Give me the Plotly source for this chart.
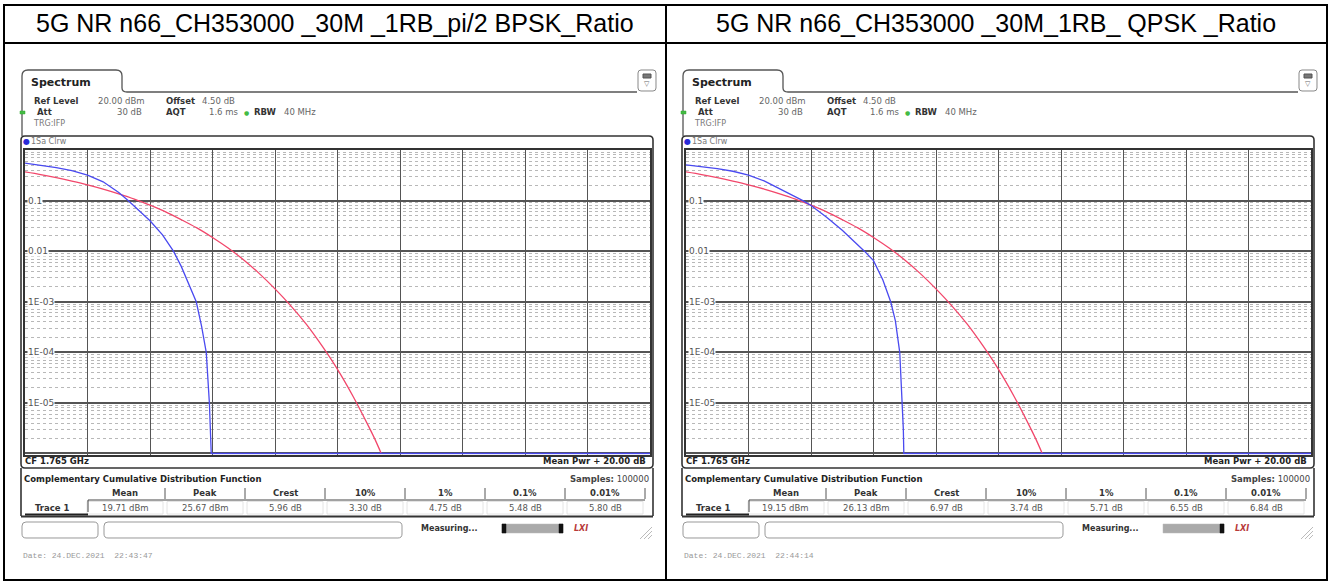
import math
import plotly.graph_objects as go

W, H = 1331, 584

# ---------------- data ----------------
panel_titles = [
    "5G NR n66_CH353000 _30M _1RB_pi/2 BPSK_Ratio",
    "5G NR n66_CH353000 _30M_1RB_ QPSK _Ratio",
]

# Gaussian (AWGN) reference curve, dB above mean power vs. probability
gauss_db = [0, 0.5, 1, 1.5, 2, 2.5, 3, 3.5, 4, 4.5, 5, 5.5, 6, 6.5, 7, 7.5,
            8, 8.5, 9, 9.5, 10, 10.5, 11, 11.2, 11.4]
gauss_ccdf = [0.368, 0.326, 0.284, 0.243, 0.205, 0.169, 0.136, 0.107, 0.081,
              0.060, 0.042, 0.0288, 0.0186, 0.0115, 0.0067, 0.0036, 0.0018,
              8.4e-4, 3.6e-4, 1.35e-4, 4.6e-5, 1.34e-5, 3.4e-6, 1.9e-6, 1.0e-6]

# Measured trace, pi/2 BPSK
bpsk_db = [0, 0.5, 1, 1.5, 2, 2.5, 3, 3.3, 3.6, 4, 4.4, 4.75, 5.0, 5.25,
           5.48, 5.65, 5.8, 5.9, 5.94, 5.96, 20]
bpsk_ccdf = [0.55, 0.505, 0.45, 0.39, 0.32, 0.235, 0.145, 0.10, 0.068, 0.040,
             0.021, 0.010, 0.005, 0.0022, 0.001, 3.3e-4, 1.0e-4, 1.0e-5,
             2.5e-6, 1.0e-6, 1.0e-6]

# Measured trace, QPSK
qpsk_db = [0, 0.5, 1, 1.5, 2, 2.5, 3, 3.5, 3.74, 4, 4.5, 5, 5.4, 5.71, 6,
           6.3, 6.55, 6.7, 6.84, 6.93, 6.955, 6.97, 20]
qpsk_ccdf = [0.51, 0.475, 0.43, 0.38, 0.32, 0.245, 0.172, 0.118, 0.10, 0.080,
             0.047, 0.026, 0.0155, 0.010, 0.0065, 0.0027, 0.001, 4.2e-4,
             1.0e-4, 1.0e-5, 3e-6, 1.0e-6, 1.0e-6]

y_tick_vals = [0.1, 0.01, 1e-3, 1e-4, 1e-5]
y_tick_text = ["0.1", "0.01", "1E-03", "1E-04", "1E-05"]

stat_cols = ["Mean", "Peak", "Crest", "10%", "1%", "0.1%", "0.01%"]
bpsk_stats = ["19.71 dBm", "25.67 dBm", "5.96 dB", "3.30 dB", "4.75 dB", "5.48 dB", "5.80 dB"]
qpsk_stats = ["19.15 dBm", "26.13 dBm", "6.97 dB", "3.74 dB", "5.71 dB", "6.55 dB", "6.84 dB"]
date_stamps = ["Date: 24.DEC.2021  22:43:47", "Date: 24.DEC.2021  22:44:14"]

# ---------------- helpers (pixel -> paper) ----------------
shapes, annotations = [], []
UI = "DejaVu Sans"


def fx(x):
    return x / W


def fy(y):
    return 1 - y / H


def line(x0, y0, x1, y1, color="#222", width=1.0):
    shapes.append(dict(type="line", xref="paper", yref="paper",
                       x0=fx(x0), y0=fy(y0), x1=fx(x1), y1=fy(y1),
                       line=dict(color=color, width=width), layer="above"))


def box(x0, y0, x1, y1, color="#222", width=1.0, fill=None):
    shapes.append(dict(type="rect", xref="paper", yref="paper",
                       x0=fx(x0), y0=fy(y0), x1=fx(x1), y1=fy(y1),
                       line=dict(color=color, width=width),
                       fillcolor=fill or "rgba(0,0,0,0)", layer="above"))


def p(x, y):
    return f"{fx(x):.5f},{fy(y):.5f}"


def rounded(x0, y0, x1, y1, r, color="#333", width=1.2):
    d = (f"M{p(x0 + r, y0)} L{p(x1 - r, y0)} Q{p(x1, y0)} {p(x1, y0 + r)} "
         f"L{p(x1, y1 - r)} Q{p(x1, y1)} {p(x1 - r, y1)} L{p(x0 + r, y1)} "
         f"Q{p(x0, y1)} {p(x0, y1 - r)} L{p(x0, y0 + r)} Q{p(x0, y0)} {p(x0 + r, y0)} Z")
    shapes.append(dict(type="path", xref="paper", yref="paper", path=d,
                       line=dict(color=color, width=width),
                       fillcolor="rgba(0,0,0,0)", layer="above"))


def text(x, y, s, size=9, color="#333", anchor="left", family=UI):
    annotations.append(dict(xref="paper", yref="paper", x=fx(x), y=fy(y), text=s,
                            showarrow=False, xanchor=anchor, yanchor="middle",
                            font=dict(family=family, size=size, color=color),
                            borderpad=0))


# ---------------- outer table ----------------
box(4, 5, 1327, 580, color="#000", width=2)
line(666, 5, 666, 580, color="#000", width=2)
line(4, 43, 1327, 43, color="#000", width=2)

GRID_L, GRID_R, GRID_T, GRID_B = 25, 650, 150, 454.5
OFFSET = 661

fig = go.Figure()


def panel(k, title, meas_db, meas_ccdf, stats, stamp):
    ox = k * OFFSET
    xa = "x" if k == 0 else "x2"
    ya = "y" if k == 0 else "y2"

    # title cell
    text(335 + ox, 23, title, size=25, color="#000", anchor="center",
         family="Liberation Sans")

    # Spectrum tab and header line
    d = (f"M{p(22 + ox, 136)} L{p(22 + ox, 76)} Q{p(22 + ox, 70)} {p(28 + ox, 70)} "
         f"L{p(116 + ox, 70)} Q{p(122 + ox, 70)} {p(122 + ox, 76)} L{p(122 + ox, 88)} "
         f"Q{p(122 + ox, 92)} {p(127 + ox, 92)} L{p(637 + ox, 92)}")
    shapes.append(dict(type="path", xref="paper", yref="paper", path=d,
                       line=dict(color="#555", width=1.3), layer="above"))
    text(30 + ox, 82, "<b>Spectrum</b>", size=11, color="#222")
    rounded(638 + ox, 70, 656 + ox, 91, 3, color="#888", width=1)
    box(643 + ox, 74, 651 + ox, 78, color="#555", width=1, fill="#777")
    text(647 + ox, 84, "▽", size=7, color="#666", anchor="center")

    # setting readouts
    text(33 + ox, 101, "<b>Ref Level</b>", size=8.5, color="#333")
    text(146 + ox, 101, "20.00 dBm", size=8.5, color="#666", anchor="right")
    text(165 + ox, 101, "<b>Offset</b>", size=8.5, color="#333")
    text(201 + ox, 101, "4.50 dB", size=8.5, color="#666")
    box(20 + ox, 111, 25 + ox, 114, color="#3a3", width=0.5, fill="#4b4")
    text(36 + ox, 112, "<b>Att</b>", size=8.5, color="#333")
    text(143 + ox, 112, "30 dB", size=8.5, color="#666", anchor="right")
    text(165 + ox, 112, "<b>AQT</b>", size=8.5, color="#333")
    text(208 + ox, 112, "1.6 ms", size=8.5, color="#666")
    text(246 + ox, 112, "●", size=6, color="#4b4", anchor="center")
    text(253 + ox, 112, "<b>RBW</b>", size=8.5, color="#333")
    text(283 + ox, 112, "40 MHz", size=8.5, color="#666")
    text(32 + ox, 124, "TRG:IFP", size=8, color="#777")

    # diagram frame
    rounded(21 + ox, 136, 653 + ox, 468, 4, color="#333", width=1.6)
    text(26 + ox, 142, "●", size=8, color="#2a2ad8", anchor="center")
    text(30 + ox, 142, "1Sa Clrw", size=8, color="#777")
    text(24 + ox, 461, "<b>CF 1.765 GHz</b>", size=8.5, color="#222")
    text(647 + ox, 461, "<b>Mean Pwr + 20.00 dB</b>", size=8.5, color="#222",
         anchor="right")

    # y labels drawn inside the grid, tied to the log axis
    for v, s in zip(y_tick_vals, y_tick_text):
        annotations.append(dict(xref=xa, yref=ya, x=0, y=math.log10(v), text=s,
                                showarrow=False, xanchor="left", yanchor="middle",
                                xshift=2, font=dict(family=UI, size=9, color="#555"),
                                bgcolor="white", borderpad=0))

    # result table
    line(21 + ox, 468, 21 + ox, 516, color="#333", width=1.6)
    line(653 + ox, 468, 653 + ox, 516, color="#333", width=1.6)
    line(21 + ox, 516.5, 653 + ox, 516.5, color="#333", width=2)
    text(23 + ox, 479, "<b>Complementary Cumulative Distribution Function</b>",
         size=8.5, color="#222")
    text(650 + ox, 479, "<b>Samples:</b> 100000", size=8.5, color="#444",
         anchor="right")
    col_w = 80
    col0 = 85
    for i, (c, v) in enumerate(zip(stat_cols, stats)):
        cx = col0 + col_w * i + col_w / 2 + ox
        text(cx, 493, f"<b>{c}</b>", size=8.5, color="#333", anchor="center")
        sep = col0 + col_w * (i + 1) + ox
        line(sep, 488, sep, 499, color="#555", width=1)
        box(col0 + col_w * i + 2 + ox, 501.5, col0 + col_w * (i + 1) - 2 + ox, 514,
            color="#ddd", width=0.8)
        text(cx, 508, v, size=8.5, color="#555", anchor="center")
    line(88 + ox, 500, 645 + ox, 500, color="#444", width=1)
    line(88 + ox, 500, 88 + ox, 512, color="#444", width=1)
    line(25 + ox, 514.5, 88 + ox, 514.5, color="#222", width=2)
    text(52 + ox, 508, "<b>Trace 1</b>", size=8.5, color="#333", anchor="center")

    # status bar
    rounded(22 + ox, 522, 98 + ox, 538, 4, color="#999", width=1)
    rounded(104 + ox, 522, 402 + ox, 538, 4, color="#999", width=1)
    text(420 + ox, 528, "<b>Measuring...</b>", size=8, color="#333")
    box(502 + ox, 524, 563 + ox, 533, color="#bbb", width=0.5, fill="#aaa")
    if k == 0:
        box(502 + ox, 524, 506 + ox, 533, color="#111", width=0.5, fill="#111")
    box(559 + ox, 524, 563 + ox, 533, color="#111", width=0.5, fill="#111")
    text(573 + ox, 528, "<i><b>LXI</b></i>", size=8, color="#b83a3a")
    # resize grip
    line(652 + ox, 527, 640 + ox, 539, color="#aaa", width=0.8)
    line(652 + ox, 531, 644 + ox, 539, color="#aaa", width=0.8)
    line(652 + ox, 535, 648 + ox, 539, color="#aaa", width=0.8)

    text(22 + ox, 555, stamp, size=8, color="#999", family="Liberation Mono")

    # traces
    fig.add_trace(go.Scatter(x=gauss_db, y=gauss_ccdf, xaxis=xa, yaxis=ya,
                             mode="lines", line=dict(color="#f2476b", width=1.3,
                                                     shape="spline", smoothing=0.8),
                             hoverinfo="skip", showlegend=False))
    fig.add_trace(go.Scatter(x=meas_db, y=meas_ccdf, xaxis=xa, yaxis=ya,
                             mode="lines", line=dict(color="#4a4af0", width=1.3),
                             hoverinfo="skip", showlegend=False))


panel(0, panel_titles[0], bpsk_db, bpsk_ccdf, bpsk_stats, date_stamps[0])
panel(1, panel_titles[1], qpsk_db, qpsk_ccdf, qpsk_stats, date_stamps[1])

ydom = [fy(GRID_B), fy(GRID_T)]
common_x = dict(range=[0, 20], dtick=2, tick0=0, showgrid=True, gridcolor="#555",
                gridwidth=1.3, showticklabels=False, ticks="", zeroline=False,
                showline=True, mirror=True, linecolor="#333", linewidth=1.5,
                fixedrange=True)
common_y = dict(type="log", range=[-6.02, 0], dtick=1, showgrid=True,
                gridcolor="#555", gridwidth=2, showticklabels=False, ticks="",
                zeroline=False, showline=True, mirror=True, linecolor="#333",
                linewidth=1.5, fixedrange=True, domain=ydom,
                minor=dict(dtick="D1", showgrid=True, gridcolor="#b8b8b8",
                           griddash="dot", gridwidth=1, ticks=""))

fig.update_layout(
    width=W, height=H, margin=dict(l=0, r=0, t=0, b=0),
    paper_bgcolor="white", plot_bgcolor="white",
    xaxis=dict(domain=[fx(GRID_L), fx(GRID_R)], anchor="y", **common_x),
    yaxis=dict(anchor="x", **common_y),
    xaxis2=dict(domain=[fx(GRID_L + OFFSET), fx(GRID_R + OFFSET)], anchor="y2", **common_x),
    yaxis2=dict(anchor="x2", **common_y),
    shapes=shapes, annotations=annotations, showlegend=False,
)

fig.write_html("out.html")
